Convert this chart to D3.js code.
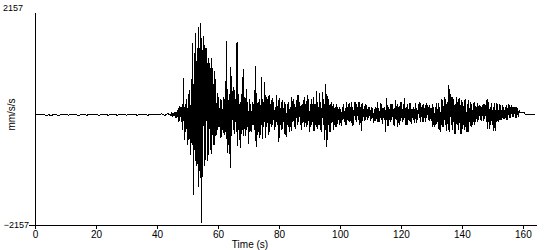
<!DOCTYPE html>
<html>
<head>
<meta charset="utf-8">
<script src="https://cdn.jsdelivr.net/npm/d3@7"></script>
<style>
    body { margin: 0; background: #fff; }
    svg { display: block; }
    .axis text { font-family: "Liberation Sans", Arial, sans-serif; font-size: 10px; fill: #000; }
    .label { font-family: "Liberation Sans", Arial, sans-serif; font-size: 10px; fill: #000; }
</style>
</head>
<body>
<svg id="chart"></svg>
<script>
// quiet part before the first arrival: 0 - 43.5 s, one sample every 0.5 s (mm/s/s)
const quietStep = 0.5;
const quietAccel = [
    0, 0, 0, 0, 0, 0, 0, -20, -20, 0,
    -20, -20, 0, 0, 0, -20, -20, 0, 0, 0,
    0, 0, -20, 0, 0, 0, 0, 0, -20, -20,
    0, 0, 0, 0, -20, 0, 0, 0, 0, 0,
    0, 0, -20, 0, 0, 0, 0, 0, -20, 0,
    0, 0, 0, 0, -20, 0, 0, 0, 0, 0,
    -20, 0, 0, 0, 0, 0, 0, -20, 0, 0,
    0, 0, 0, 0, -20, 0, 0, 0, 0, 0,
    0, 0, 0, 20, 0, -20, 0, 20
];

// shaking: 44 - 164 s, one sample every 0.25 s (mm/s/s), two seconds per row
const eventStart = 44;
const eventStep = 0.25;
const eventAccel = [
    0, 10, -20, 20, -40, 30, -30, 40,
    -60, 50, -60, 80, -150, 160, -120, 150,
    -140, 200, -300, 705, -490, 200, -350, 300,
    -600, 400, -500, 480, -800, 700, -600, 1400,
    -1570, 1200, -900, 1600, -1000, 1300, -1410, 1700,
    -1100, 1790, -2120, 1500, -1220, 1530, -1000, 1350,
    -880, 1300, -900, 1100, -800, 1000, -700, 1100,
    -780, 900, -600, 850, -600, 700, -400, 420,
    -300, 350, -250, 300, -450, 280, -300, 350,
    -400, 300, -350, 1430, -750, 500, -600, 400,
    -1040, 920, -420, 450, -300, 530, -380, 300,
    -350, 1410, -620, 400, -500, 250, -650, 400,
    -300, 880, -420, 350, -420, 500, -300, 250,
    -580, 300, -350, 200, -350, 250, -200, 200,
    -300, 940, -640, 420, -400, 250, -450, 300,
    -400, 725, -480, 300, -250, 630, -450, 380,
    -250, 300, -400, 380, -350, 200, -250, 330,
    -200, 250, -300, 150, -250, 390, -200, 280,
    -530, 320, -200, 250, -300, 280, -150, 250,
    -400, 200, -430, 200, -250, 240, -350, 150,
    -330, 350, -150, 300, -250, 200, -290, 280,
    -200, 390, -150, 250, -200, 180, -300, 200,
    -150, 350, -250, 200, -250, 380, -200, 300,
    -350, 200, -250, 300, -150, 350, -330, 200,
    -200, 450, -280, 250, -200, 420, -300, 250,
    -350, 430, -200, 300, -490, 590, -630, 400,
    -500, 300, -350, 200, -350, 250, -150, 200,
    -300, 120, -250, 200, -250, 150, -100, 150,
    -200, 100, -230, 150, -100, 200, -150, 120,
    -200, 250, -100, 200, -150, 230, -120, 250,
    -230, 150, -200, 250, -100, 240, -150, 150,
    -100, 250, -200, 150, -330, 230, -120, 100,
    -120, 200, -100, 180, -100, 150, -60, 140,
    -120, 140, -80, 120, -160, 100, -130, 140,
    -80, 250, -150, 120, -150, 220, -100, 200,
    -180, 120, -100, 150, -350, 330, -230, 180,
    -230, 100, -150, 200, -100, 200, -200, 120,
    -220, 280, -100, 200, -250, 150, -200, 250,
    -120, 250, -150, 200, -100, 330, -200, 150,
    -200, 200, -100, 220, -150, 220, -180, 100,
    -100, 150, -160, 230, -160, 120, -100, 200,
    -60, 250, -150, 150, -150, 200, -140, 120,
    -140, 220, -60, 180, -100, 180, -130, 120,
    -130, 200, -250, 150, -250, 150, -200, 230,
    -150, 230, -300, 150, -350, 300, -250, 280,
    -250, 350, -200, 300, -330, 250, -300, 570,
    -350, 400, -200, 350, -300, 300, -390, 200,
    -390, 350, -200, 300, -300, 330, -380, 280,
    -380, 250, -200, 280, -300, 300, -350, 200,
    -350, 280, -150, 250, -250, 200, -200, 220,
    -200, 250, -140, 150, -140, 220, -100, 180,
    -100, 160, -130, 180, -130, 200, -80, 180,
    -150, 300, -280, 250, -280, 150, -200, 220,
    -200, 150, -330, 220, -330, 220, -150, 200,
    -150, 200, -100, 180, -100, 180, -80, 150,
    -80, 150, -100, 180, -100, 200, -60, 180,
    -60, 180, -40, 150, -40, 150, -60, 150,
    -60, 120, -40, 80, 30, 30, 30, 30,
    30, 30, 30, 0, 0, 0, 0, 0,
    0, 0, 0, 0, 0, 0, 0, 0,
    0
];

const xTicks = [0, 20, 40, 60, 80, 100, 120, 140, 160];
const timeMax = 164.3;
const accelLimit = 2157;

const width = 550;
const height = 250;
const margin = {top: 4, right: 14, bottom: 25, left: 35};

const quietData = quietAccel.map(function(v, i) {
    return {time: i * quietStep, accel: v};
});
const eventData = eventAccel.map(function(v, i) {
    return {time: eventStart + i * eventStep, accel: v};
});
const data = quietData.concat(eventData);

const svg = d3.select("#chart")
    .attr("width", width)
    .attr("height", height);

// set the ranges
const x = d3.scaleLinear().domain([0, timeMax]).range([margin.left, width - margin.right]);
const y = d3.scaleLinear().domain([-accelLimit, accelLimit]).range([height - margin.bottom, margin.top]);

// the trace, drawn without smoothing like the old plot
const trace = d3.line()
    .x(function(d) { return x(d.time); })
    .y(function(d) { return y(d.accel); });

svg.append("path")
    .datum(data)
    .attr("fill", "none")
    .attr("stroke", "#000")
    .attr("stroke-width", 1)
    .attr("shape-rendering", "crispEdges")
    .attr("d", trace);

// add the X Axis
const xAxis = svg.append("g")
    .attr("class", "axis")
    .attr("transform", "translate(0," + y(-accelLimit) + ")")
    .call(d3.axisBottom(x).tickValues(xTicks).tickSize(4).tickSizeOuter(0).tickPadding(2));
xAxis.select(".domain").attr("stroke", "#000").attr("shape-rendering", "crispEdges");
xAxis.selectAll(".tick line").attr("stroke", "#000").attr("shape-rendering", "crispEdges");

// add the Y Axis: only the bottom value gets a tick
const yAxis = svg.append("g")
    .attr("class", "axis")
    .attr("transform", "translate(" + x(0) + ",0)")
    .call(d3.axisLeft(y).tickValues([-accelLimit]).tickFormat(d3.format("d"))
        .tickSize(6).tickSizeOuter(0).tickPadding(0));
yAxis.select(".domain").attr("d", "M0," + y(-accelLimit) + "V" + (y(accelLimit) + 9))
    .attr("stroke", "#000").attr("shape-rendering", "crispEdges");
yAxis.selectAll(".tick line").attr("stroke", "#000").attr("shape-rendering", "crispEdges");
yAxis.selectAll(".tick text").style("font-size", "9px");

// top value sits above the axis, left of it
svg.append("text")
    .attr("class", "label")
    .style("font-size", "9px")
    .attr("x", x(0) - 12)
    .attr("y", y(accelLimit) + 4)
    .attr("dy", "0.32em")
    .attr("text-anchor", "end")
    .text(accelLimit);

// axis titles
svg.append("text")
    .attr("class", "label")
    .attr("x", 250)
    .attr("y", height - 2)
    .attr("text-anchor", "middle")
    .text("Time (s)");

svg.append("text")
    .attr("class", "label")
    .attr("transform", "translate(15," + y(0) + ") rotate(-90)")
    .attr("text-anchor", "middle")
    .text("mm/s/s");
</script>
</body>
</html>
